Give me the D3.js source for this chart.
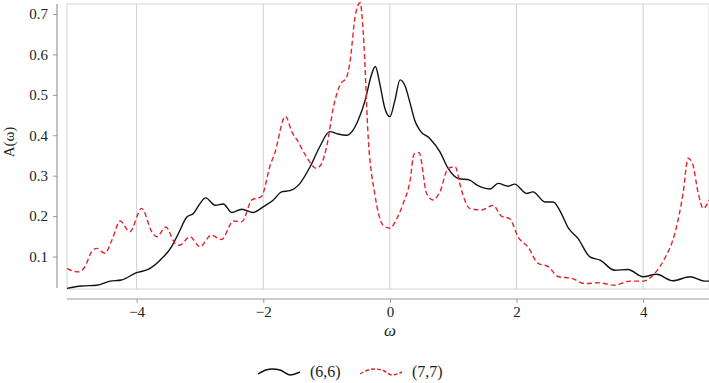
<!DOCTYPE html>
<html>
<head>
<meta charset="utf-8">
<script src="https://cdn.jsdelivr.net/npm/d3@7"></script>
<style>
  body { margin: 0; background: #fff; }
  svg text { font-family: "Liberation Serif", "Times New Roman", Tinos, "Noto Serif", "DejaVu Serif", serif; fill: #222; }
</style>
</head>
<body>
<svg id="chart"></svg>
<script>
// omega values and A(omega) for the (6,6) curve
let w66 = [-5.1, -4.87, -4.63, -4.42, -4.24, -4.0, -3.82, -3.63, -3.45, -3.34, -3.21, -3.1, -3.0, -2.91,
  -2.76, -2.63, -2.5, -2.34, -2.16, -2.0, -1.84, -1.71, -1.58, -1.42, -1.26, -1.11, -0.95, -0.82, -0.68,
  -0.6, -0.5, -0.39, -0.3, -0.23, -0.16, -0.08, 0, 0.08, 0.16, 0.24, 0.32, 0.39, 0.47, 0.63, 0.79, 0.92,
  1.08, 1.26, 1.37, 1.58, 1.71, 1.87, 1.97, 2.16, 2.26, 2.45, 2.58, 2.68, 2.82, 2.97, 3.16, 3.32, 3.55,
  3.76, 4.0, 4.21, 4.47, 4.74, 4.97, 5.04]
let a66 = [0.021, 0.027, 0.029, 0.039, 0.042, 0.06, 0.068, 0.091, 0.124, 0.157, 0.197, 0.207, 0.231, 0.245,
  0.227, 0.23, 0.209, 0.217, 0.209, 0.223, 0.24, 0.26, 0.263, 0.281, 0.322, 0.371, 0.409, 0.403, 0.4,
  0.409, 0.438, 0.487, 0.545, 0.57, 0.528, 0.467, 0.446, 0.487, 0.537, 0.522, 0.479, 0.438, 0.413, 0.392,
  0.359, 0.318, 0.293, 0.289, 0.277, 0.267, 0.281, 0.274, 0.279, 0.256, 0.26, 0.235, 0.235, 0.215, 0.17,
  0.145, 0.099, 0.091, 0.066, 0.068, 0.05, 0.056, 0.04, 0.05, 0.039, 0.039]

// omega values and A(omega) for the (7,7) curve
let w77 = [-5.1, -4.92, -4.82, -4.71, -4.63, -4.5, -4.39, -4.26, -4.11, -3.92, -3.76, -3.68, -3.54, -3.39,
  -3.32, -3.16, -3.0, -2.82, -2.66, -2.47, -2.34, -2.18, -2.03, -1.89, -1.82, -1.65, -1.55, -1.45, -1.32,
  -1.16, -1.08, -1.0, -0.89, -0.79, -0.68, -0.63, -0.55, -0.47, -0.42, -0.34, -0.24, -0.11, 0, 0.11, 0.21,
  0.32, 0.38, 0.46, 0.58, 0.68, 0.79, 0.92, 1.03, 1.13, 1.26, 1.45, 1.63, 1.76, 1.89, 2.03, 2.18, 2.34,
  2.5, 2.66, 2.87, 3.08, 3.29, 3.55, 3.79, 4.0, 4.18, 4.34, 4.5, 4.63, 4.71, 4.78, 4.87, 4.95, 5.04]
let a77 = [0.07, 0.062, 0.074, 0.112, 0.12, 0.108, 0.141, 0.188, 0.161, 0.219, 0.161, 0.149, 0.173, 0.132,
  0.128, 0.149, 0.124, 0.153, 0.142, 0.188, 0.186, 0.24, 0.248, 0.326, 0.355, 0.447, 0.409, 0.384, 0.347,
  0.318, 0.33, 0.371, 0.471, 0.524, 0.545, 0.582, 0.693, 0.728, 0.652, 0.388, 0.256, 0.178, 0.17, 0.194, 0.231,
  0.289, 0.353, 0.357, 0.256, 0.24, 0.26, 0.318, 0.322, 0.264, 0.219, 0.215, 0.227, 0.2, 0.194, 0.147,
  0.124, 0.083, 0.075, 0.05, 0.046, 0.033, 0.035, 0.029, 0.039, 0.039, 0.058, 0.095, 0.157, 0.256, 0.343,
  0.33, 0.256, 0.219, 0.24]

let xTicks = [-4, -2, 0, 2, 4]
let yTicks = [0.1, 0.2, 0.3, 0.4, 0.5, 0.6, 0.7]
let seriesNames = ['(6,6)', '(7,7)']

let width = 709
let height = 383
let padLeft = 67, padRight = 709, padTop = 4, padBottom = 289
let fontStack = '"Liberation Serif", "Times New Roman", Tinos, "Noto Serif", "DejaVu Serif", serif'

let svg = d3.select('#chart').attr('width', width).attr('height', height)

let xScale = d3.scaleLinear().domain([-5.1, 5.04]).range([padLeft, padRight])
let yScale = d3.scaleLinear().domain([0.0196, 0.7248]).range([padBottom, padTop])

// panel with light border and vertical grid lines
svg.append('rect')
  .attr('x', padLeft).attr('y', padTop)
  .attr('width', padRight - padLeft).attr('height', padBottom - padTop)
  .attr('fill', 'none').attr('stroke', '#e3e3e3').attr('stroke-width', 1.5)

svg.selectAll('.grid')
  .data(xTicks)
  .enter()
  .append('line')
  .attr('x1', d => xScale(d)).attr('x2', d => xScale(d))
  .attr('y1', padTop).attr('y2', padBottom)
  .attr('stroke', '#d0d0d0').attr('stroke-width', 1)

// axes, drawn apart from the panel
let xAxis = d3.axisBottom(xScale).tickValues(xTicks).tickSize(4).tickPadding(3)
  .tickFormat(d => d < 0 ? '\u2212' + Math.abs(d) : d)
let yAxis = d3.axisLeft(yScale).tickValues(yTicks).tickSize(4).tickPadding(5)
  .tickFormat(d3.format('.1f'))

let gx = svg.append('g').attr('transform', 'translate(0,' + 299 + ')').call(xAxis)
let gy = svg.append('g').attr('transform', 'translate(' + 57 + ',0)').call(yAxis)

gx.select('.domain').attr('d', 'M' + padLeft + ',0H' + padRight)
gy.select('.domain').attr('d', 'M0,' + padTop + 'V' + (padBottom - 1))
for (let g of [gx, gy]) {
  g.attr('font-family', null)
  g.select('.domain').attr('stroke', '#9a9a9a').attr('stroke-width', 1.2)
  g.selectAll('.tick line').attr('stroke', '#9a9a9a')
  g.selectAll('.tick text').attr('font-size', 15).attr('fill', '#222')
    .style('font-family', fontStack)
}

// curves
let line = d3.line().curve(d3.curveMonotoneX).x(d => xScale(d[0])).y(d => yScale(d[1]))

svg.append('path')
  .datum(w66.map((w, i) => [w, a66[i]]))
  .attr('d', line)
  .attr('fill', 'none').attr('stroke', '#111').attr('stroke-width', 1.4)

svg.append('path')
  .datum(w77.map((w, i) => [w, a77[i]]))
  .attr('d', line)
  .attr('fill', 'none').attr('stroke', '#e3242b').attr('stroke-width', 1.4)
  .attr('stroke-dasharray', '5,3')

// axis titles
svg.append('text')
  .attr('x', xScale(0)).attr('y', 336)
  .attr('text-anchor', 'middle').attr('font-size', 17).attr('font-style', 'italic')
  .style('font-family', fontStack)
  .text('\u03c9')

svg.append('text')
  .attr('transform', 'translate(14,142) rotate(-90)')
  .attr('text-anchor', 'middle').attr('font-size', 15)
  .style('font-family', fontStack)
  .text('A(\u03c9)')

// legend
let legendShape = [[0, 5], [8, 1], [14, 0], [22, 1], [32, 6], [42, 3]]
let legend = svg.append('g').attr('transform', 'translate(258,369)')
let styles = [{ c: '#111', dash: null }, { c: '#e3242b', dash: '4,2' }]
seriesNames.forEach((name, i) => {
  let g = legend.append('g').attr('transform', 'translate(' + (i * 102) + ',0)')
  g.append('path')
    .attr('d', d3.line().curve(d3.curveMonotoneX)(legendShape))
    .attr('fill', 'none').attr('stroke', styles[i].c).attr('stroke-width', 1.4)
    .attr('stroke-dasharray', styles[i].dash)
  g.append('text')
    .attr('x', 52).attr('y', 8)
    .attr('font-size', 16)
    .style('font-family', fontStack)
    .text(name)
})
</script>
</body>
</html>
